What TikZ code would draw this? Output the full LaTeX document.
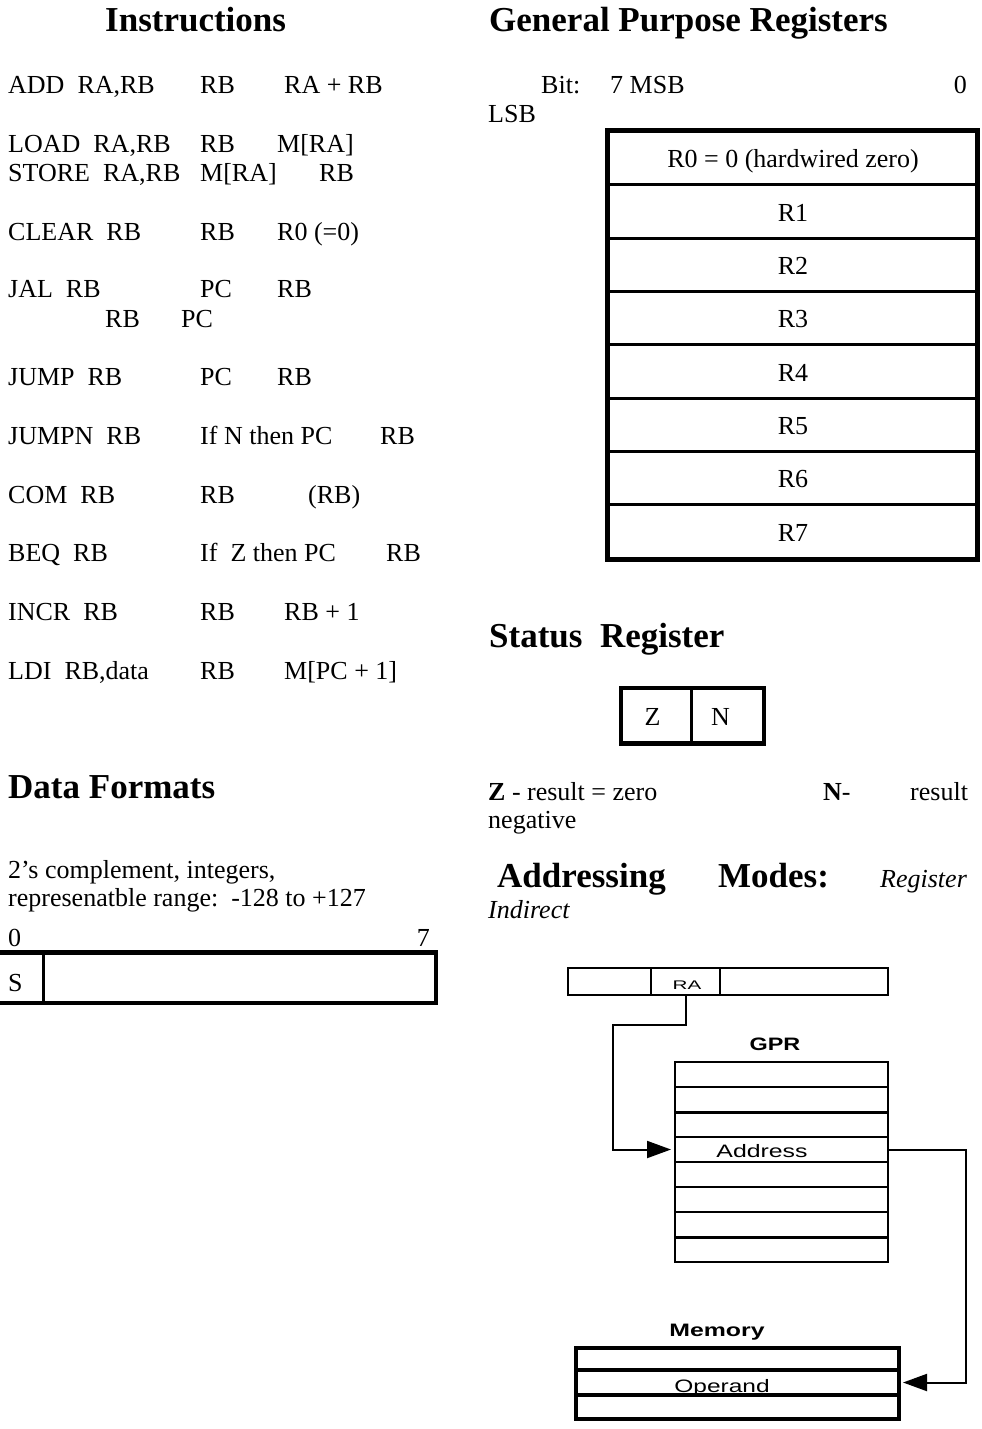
\documentclass[tikz,border=0pt]{standalone}
\usepackage{fontspec}
\setmainfont{Liberation Serif}
\newfontfamily\arialfont{Liberation Sans}
\usepackage{graphicx}
\usetikzlibrary{arrows.meta}
\newcommand\mybody{\fontsize{26}{30}\selectfont}
\newcommand\myhead{\fontsize{35}{40}\selectfont\bfseries}
\newcommand\mysans{\arialfont\fontsize{18}{20}\selectfont}
\newcommand\mysmallsans{\arialfont\fontsize{12.5}{14}\selectfont}
\begin{document}
\begin{tikzpicture}[x=1pt,y=-1pt,
  txt/.style={anchor=base west,inner sep=0pt,font=\mybody},
  txte/.style={anchor=base east,inner sep=0pt,font=\mybody},
  txtc/.style={anchor=base,inner sep=0pt,font=\mybody},
  head/.style={anchor=base west,inner sep=0pt,font=\myhead},
  lbl/.style={anchor=base,inner sep=0pt,font=\mysans},
  cell/.style={inner sep=0pt,outer sep=0pt,minimum height=#1},
  thinline/.style={line width=2pt},
  arr/.style={line width=2pt,shorten >=4pt,-{Triangle[length=24pt,width=17pt]}},
]
\useasboundingbox (0,0) rectangle (982,1429);
\fill[white] (0,0) rectangle (982,1429);

% ---------- Headings ----------
\node[head] (hinstr) at (105,32) {Instructions};
\node[head] (hgpr) at (489,32) {General Purpose Registers};

% ---------- Instructions ----------
\node[txt] (i1a) at (8,93) {ADD\ \ RA,RB};
\node[txt] (i1b) at (200,93) {RB};
\node[txt] (i1c) at (284,93) {RA + RB};

\node[txt] (i2a) at (8,152) {LOAD\ \ RA,RB};
\node[txt] (i2b) at (200,152) {RB};
\node[txt] (i2c) at (277,152) {M[RA]};

\node[txt] (i3a) at (8,181) {STORE\ \ RA,RB};
\node[txt] (i3b) at (200,181) {M[RA]};
\node[txt] (i3c) at (319,181) {RB};

\node[txt] (i4a) at (8,240) {CLEAR\ \ RB};
\node[txt] (i4b) at (200,240) {RB};
\node[txt] (i4c) at (277,240) {R0 (=0)};

\node[txt] (i5a) at (8,297) {JAL\ \ RB};
\node[txt] (i5b) at (200,297) {PC};
\node[txt] (i5c) at (277,297) {RB};
\node[txt] (i5d) at (105,327) {RB};
\node[txt] (i5e) at (181,327) {PC};

\node[txt] (i6a) at (8,385) {JUMP\ \ RB};
\node[txt] (i6b) at (200,385) {PC};
\node[txt] (i6c) at (277,385) {RB};

\node[txt] (i7a) at (8,444) {JUMPN\ \ RB};
\node[txt] (i7b) at (200,444) {If N then PC};
\node[txt] (i7c) at (380,444) {RB};

\node[txt] (i8a) at (8,503) {COM\ \ RB};
\node[txt] (i8b) at (200,503) {RB};
\node[txt] (i8c) at (308,503) {(RB)};

\node[txt] (i9a) at (8,561) {BEQ\ \ RB};
\node[txt] (i9b) at (200,561) {If\ \ Z then PC};
\node[txt] (i9c) at (386,561) {RB};

\node[txt] (i10a) at (8,620) {INCR\ \ RB};
\node[txt] (i10b) at (200,620) {RB};
\node[txt] (i10c) at (284,620) {RB + 1};

\node[txt] (i11a) at (8,679) {LDI\ \ RB,data};
\node[txt] (i11b) at (200,679) {RB};
\node[txt] (i11c) at (284,679) {M[PC + 1]};

% ---------- General purpose registers ----------
\node[txt] (bit) at (541,93) {Bit:};
\node[txt] (msb) at (610,93) {7 MSB};
\node[txte] (bzero) at (967,93) {0};
\node[txt] (lsb) at (488,122) {LSB};

\foreach \yy in {184,238,291,344,398,451,504}
  \draw[line width=3pt] (607.5,\yy) -- (977.5,\yy);
\draw[line width=5pt] (607.5,130.5) rectangle (977.5,559.5);
\node[txtc] (r0) at (793,167.5) {R0 = 0 (hardwired zero)};
\node[txtc] (r1) at (793,221) {R1};
\node[txtc] (r2) at (793,274.5) {R2};
\node[txtc] (r3) at (793,327.5) {R3};
\node[txtc] (r4) at (793,381) {R4};
\node[txtc] (r5) at (793,434.5) {R5};
\node[txtc] (r6) at (793,487.5) {R6};
\node[txtc] (r7) at (793,541) {R7};

% ---------- Status register ----------
\node[head] (hstat) at (489,647) {Status\ \ Register};
\draw[line width=3pt] (691.7,688) -- (691.7,743.7);
\draw[line width=4.5pt] (620.8,688) rectangle (764,743.7);
\node[txtc] (zf) at (652.5,725) {Z};
\node[txtc] (nf) at (720.5,725) {N};

\node[txt] (zdesc) at (488,800) {\textbf{Z} - result = zero};
\node[txt] (ndesc) at (823,800) {\textbf{N}-};
\node[txt] (nres) at (910,800) {result};
\node[txt] (nneg) at (488,828) {negative};

% ---------- Addressing modes ----------
\node[head] (hadd1) at (497,887) {Addressing};
\node[head] (hadd2) at (718,887) {Modes:};
\node[txt] (hadd3) at (880,887) {\itshape Register};
\node[txt] (hadd4) at (488,918) {\itshape Indirect};

% instruction word
\draw[thinline] (568,968) rectangle (888,995);
\node[cell=27pt,draw,line width=2pt,minimum width=69pt] (ra) at (685.5,981.5) {};
\node[anchor=base,inner sep=0pt,font=\mysmallsans] (ratxt) at (687,989) {\scalebox{1.65}[1]{RA}};

% GPR file
\node[lbl] (gprl) at (775,1050.5) {\scalebox{1.3}[1]{\bfseries GPR}};
\foreach \yy in {1087,1137,1162,1187,1212}
  \draw[thinline] (675,\yy) -- (888,\yy);
\foreach \yy in {1112,1237}
  \draw[line width=3pt] (675,\yy) -- (888,\yy);
\draw[thinline] (675,1062) rectangle (888,1262);
\node[cell=25pt,minimum width=213pt] (addr) at (781.5,1149.5) {};
\node[lbl] (addrtxt) at (762,1157) {\scalebox{1.38}[1]{Address}};

% Memory
\node[lbl] (meml) at (717,1336) {\scalebox{1.38}[1]{\bfseries Memory}};
\foreach \yy in {1370,1395}
  \draw[line width=4pt] (576,\yy) -- (899,\yy);
\draw[line width=3.5pt] (576,1348) rectangle (899,1419);
\node[cell=25pt,minimum width=323pt] (opr) at (737.5,1382.5) {};
\node[lbl] (oprtxt) at (722,1392) {\scalebox{1.36}[1]{Operand}};

% connectors
\coordinate (b1) at (613,1025);
\coordinate (b2) at (966,1382.5);
\draw[arr] (ra.south) |- (b1) |- (addr.west);
\draw[arr] (addr.east) -| (b2) -- (opr.east);

% ---------- Data formats ----------
\node[head] (hdata) at (8,798) {Data Formats};
\node[txt] (d1) at (8,878) {2’s complement, integers,};
\node[txt] (d2) at (8,906) {represenatble range:\ \ -128 to +127};
\node[txt] (dz) at (8,946) {0};
\node[txte] (ds) at (430,946) {7};
\draw[line width=4.5pt] (-5,952.5) -- (435.8,952.5) -- (435.8,1003) -- (-5,1003);
\draw[line width=3pt] (43.3,952.5) -- (43.3,1003);
\node[txt] (sbit) at (8,991) {S};
\end{tikzpicture}
\end{document}
